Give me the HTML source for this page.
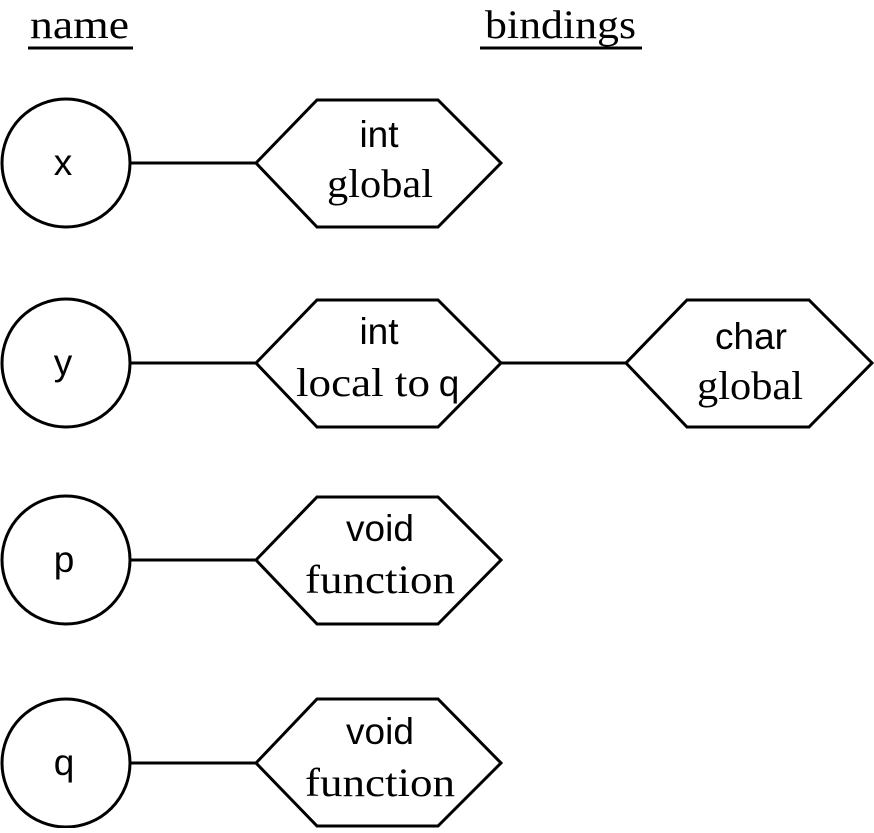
<!DOCTYPE html>
<html><head><style>html,body{margin:0;padding:0;background:#fff}</style></head>
<body>
<svg width="874" height="828" xmlns="http://www.w3.org/2000/svg">
<g fill="none" stroke="#000" stroke-width="3">
<line x1="28" y1="48" x2="133" y2="48"/>
<line x1="480" y1="48" x2="642" y2="48"/>
<circle cx="66" cy="163" r="64"/>
<circle cx="66" cy="363" r="64"/>
<circle cx="66" cy="560" r="64"/>
<circle cx="66" cy="763" r="64"/>
<line x1="130" y1="163" x2="256" y2="163"/>
<line x1="130" y1="363" x2="256" y2="363"/>
<line x1="501" y1="363" x2="626" y2="363"/>
<line x1="130" y1="560" x2="256" y2="560"/>
<line x1="130" y1="763" x2="256" y2="763"/>
<polygon points="256,163 317,100 438,100 501,163 438,227 317,227"/>
<polygon points="256,363 317,300 438,300 501,363 438,427 317,427"/>
<polygon points="626,363 687,300 809,300 872,363 809,427 687,427"/>
<polygon points="256,560 317,497 438,497 501,560 438,624 317,624"/>
<polygon points="256,763 317,699 438,699 501,763 438,826 317,826"/>
</g>
<g font-family="Liberation Serif, serif" font-size="40">
<text x="30" y="38" textLength="99" lengthAdjust="spacingAndGlyphs">name</text>
<text x="485" y="38" textLength="151" lengthAdjust="spacingAndGlyphs">bindings</text>
<text x="327" y="197" textLength="106" lengthAdjust="spacingAndGlyphs">global</text>
<text x="296" y="396" textLength="134" lengthAdjust="spacingAndGlyphs">local to</text>
<text x="697" y="399" textLength="106" lengthAdjust="spacingAndGlyphs">global</text>
<text x="305" y="593" textLength="150" lengthAdjust="spacingAndGlyphs">function</text>
<text x="305" y="796" textLength="150" lengthAdjust="spacingAndGlyphs">function</text>
</g>
<g font-family="Liberation Sans, sans-serif" font-size="37" text-anchor="middle">
<text x="63" y="175">x</text>
<text x="63" y="375">y</text>
<text x="64" y="572">p</text>
<text x="64" y="775">q</text>
<text x="449" y="396">q</text>
<text x="379" y="147">int</text>
<text x="379" y="344">int</text>
<text x="751" y="349">char</text>
<text x="380" y="541">void</text>
<text x="380" y="744">void</text>
</g>
</svg>
</body></html>
